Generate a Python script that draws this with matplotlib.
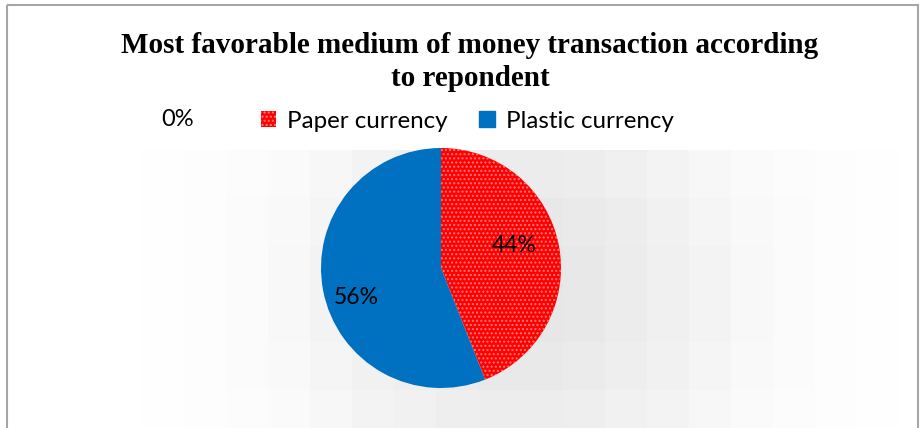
import numpy as np
import matplotlib
matplotlib.use("Agg")
import matplotlib.pyplot as plt
from matplotlib.patches import Rectangle, Patch

labels = ["Paper currency", "Plastic currency"]
values = [44, 56]
colors = ["#ff0000", "#0070c0"]
pct_labels = ["44%", "56%"]
title = "Most favorable medium of money transaction according\nto repondent"

plt.rcParams["hatch.linewidth"] = 1.0

W, H = 922, 428
fig = plt.figure(figsize=(W / 100, H / 100), dpi=100)
fig.patch.set_facecolor("white")

# faint blocky background shading
bg = fig.add_axes([0, 0, 1, 1])
bg.axis("off")
cw, ch = 42, 48
x0, y0 = 16, 150
xs = x0 + np.arange(0, 22) * cw + cw / 2
ys = y0 + np.arange(0, 7) * ch + ch / 2
X, Y = np.meshgrid(xs, ys)
g = 1 - 0.10 * np.exp(-(((X - 520) / 210) ** 2 + ((Y - 290) / 230) ** 2))
bg.imshow(g, cmap="gray", vmin=0, vmax=1,
          extent=[x0, x0 + len(xs) * cw, y0 + len(ys) * ch, y0],
          interpolation="nearest", aspect="auto")
bg.set_xlim(0, W)
bg.set_ylim(H, 0)
bg.add_patch(Rectangle((7, 5), 911, 440, fill=False, edgecolor="#a6a6a6", linewidth=1.5))

fig.text(470 / W, 1 - 62 / H, title, ha="center", va="center", fontsize=21,
         fontweight="bold", family="Liberation Serif", linespacing=1.3)

# pie
cx, cy, r = 441, 268, 120
ax = fig.add_axes([(cx - r) / W, (H - cy - r) / H, 2 * r / W, 2 * r / H])
wedges, _ = ax.pie(values, colors=colors, startangle=90, counterclock=False, radius=1,
                   wedgeprops=dict(linewidth=0))
wedges[0].set_hatch("....")
wedges[0].set_edgecolor("#ff7a7a")
wedges[0].set_linewidth(0)
ax.set_xlim(-1, 1)
ax.set_ylim(-1, 1)
ax.set_aspect("equal")
ax.axis("off")

label_pos = [(514, 245), (356, 298)]
for (px, py), t in zip(label_pos, pct_labels):
    fig.text(px / W, 1 - py / H, t, ha="center", va="center", fontsize=16.5, family="Lato")

# legend row
fig.text(178 / W, 1 - 120 / H, "0%", ha="center", va="center", fontsize=17, family="Lato")
handles = [Patch(facecolor=colors[0], hatch="....", edgecolor="#ff7a7a", linewidth=0),
           Patch(facecolor=colors[1], edgecolor=colors[1])]
leg = fig.legend(handles, labels, loc="center", bbox_to_anchor=(467 / W, 1 - 121 / H), ncol=2,
                 frameon=False, handlelength=0.65, handleheight=0.65, handletextpad=0.45,
                 columnspacing=1.3, prop=dict(family="Lato", size=17.4))

fig.savefig("out.png", dpi=100)
